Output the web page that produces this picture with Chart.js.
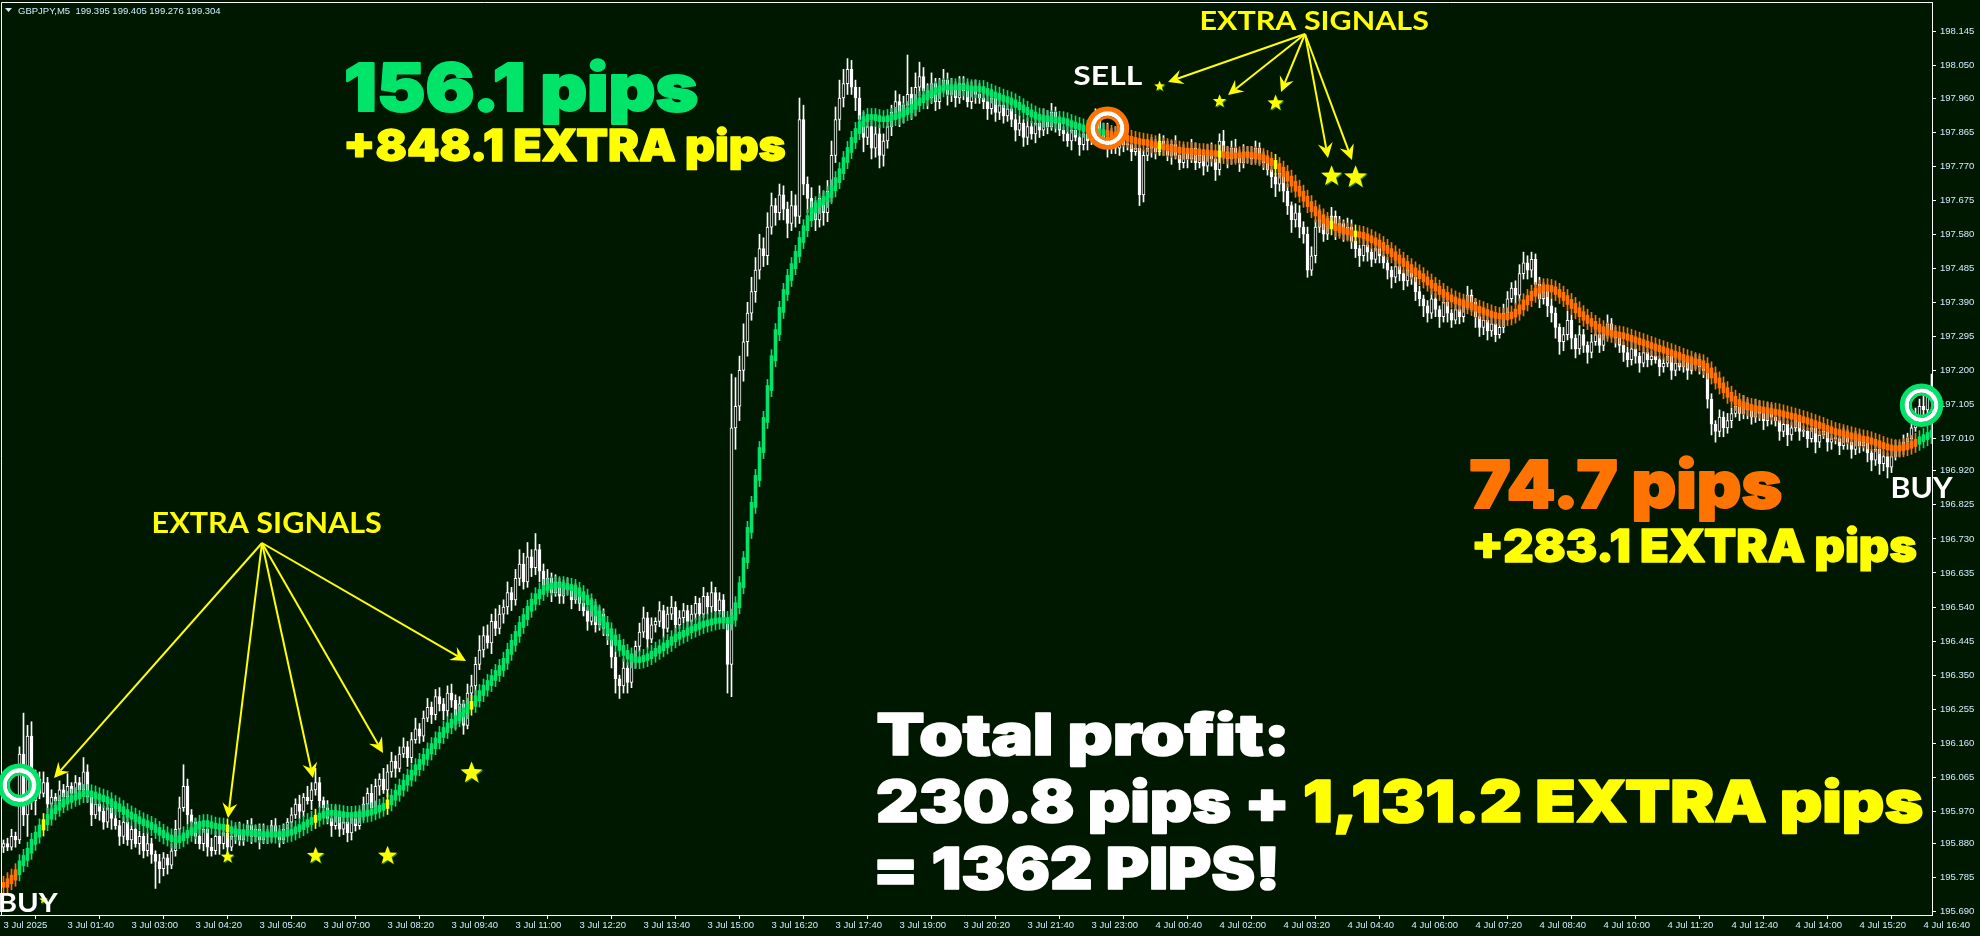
<!DOCTYPE html>
<html>
<head>
<meta charset="utf-8">
<script src="https://cdn.jsdelivr.net/npm/chart.js@4.4.1/dist/chart.umd.min.js"></script>
<style>
  html, body { margin: 0; padding: 0; background: #001800; }
  #wrap { width: 1980px; height: 936px; }
</style>
</head>
<body>
<div id="wrap"><canvas id="chart" width="1980" height="936"></canvas></div>
<script>
// GBPJPY M5, 3-4 Jul 2025. Prices are kept in points: price = BASE + value / 1000
const BASE = 195;
const FIRST_OPEN = 870;

const closes = [
  880,870,900,890,1130,960,1180,1000,1060,1020,
  1050,990,1010,1000,1030,1010,1040,1020,1050,1030,
  1080,1010,960,990,970,940,980,950,930,900,
  940,890,920,880,900,860,880,850,830,810,
  840,820,860,920,980,1040,960,940,900,880,
  920,870,860,900,880,910,870,900,920,890,
  910,930,900,920,890,910,900,930,910,890,
  920,940,960,990,970,1010,1000,1030,1050,1000,
  980,950,930,960,920,940,910,950,930,960,
  990,1020,980,1040,1060,1030,1080,1110,1090,1130,
  1150,1120,1170,1200,1180,1230,1260,1240,1290,1270,
  1250,1300,1280,1230,1270,1210,1300,1320,1380,1420,
  1460,1440,1500,1480,1520,1540,1580,1560,1620,1660,
  1610,1680,1650,1700,1640,1600,1620,1580,1610,1570,
  1600,1590,1560,1580,1550,1530,1500,1540,1490,1520,
  1480,1460,1400,1340,1320,1370,1330,1390,1430,1470,
  1510,1450,1490,1500,1530,1480,1520,1540,1490,1510,
  1530,1500,1520,1550,1520,1570,1540,1580,1530,1560,
  1500,1380,2040,2100,2200,2280,2360,2420,2480,2540,
  2520,2600,2660,2640,2690,2650,2610,2660,2630,2900,
  2720,2680,2650,2620,2680,2640,2700,2800,2900,2960,
  3000,3040,2990,2960,2900,2850,2880,2820,2860,2800,
  2840,2880,2920,2950,2910,2940,2970,2930,2990,3020,
  2980,2960,3000,2950,2990,3010,2970,2990,2960,3000,
  2980,2950,2990,2970,2960,2950,2930,2960,2920,2940,
  2910,2930,2900,2870,2890,2850,2880,2860,2890,2870,
  2910,2880,2920,2890,2870,2860,2840,2870,2850,2830,
  2860,2840,2880,2900,2870,2850,2830,2860,2820,2840,
  2830,2830,2810,2820,2690,2800,2820,2830,2810,2840,
  2820,2800,2830,2800,2780,2810,2790,2820,2780,2800,
  2770,2810,2790,2760,2840,2810,2790,2820,2800,2780,
  2810,2800,2790,2820,2800,2780,2760,2740,2720,2750,
  2700,2660,2620,2640,2600,2580,2480,2520,2600,2620,
  2580,2610,2630,2590,2610,2580,2600,2560,2540,2520,
  2550,2530,2510,2540,2520,2500,2480,2460,2490,2470,
  2450,2480,2460,2420,2400,2380,2360,2400,2370,2350,
  2390,2360,2340,2370,2350,2380,2410,2390,2350,2320,
  2340,2310,2330,2300,2320,2360,2400,2430,2410,2470,
  2500,2480,2510,2440,2400,2420,2380,2360,2320,2280,
  2300,2340,2290,2260,2300,2270,2250,2280,2300,2270,
  2300,2330,2310,2290,2270,2250,2230,2260,2240,2220,
  2250,2230,2240,2230,2210,2220,2240,2200,2220,2210,
  2230,2200,2220,2230,2210,2200,2120,2050,2030,2070,
  2040,2060,2080,2100,2080,2110,2090,2070,2100,2080,
  2060,2090,2070,2060,2030,2050,2020,2040,2060,2030,
  2030,2010,2040,2000,2020,2030,2000,2010,2010,1990,
  2020,2000,1980,2010,1990,2000,1970,1950,1980,1940,
  1960,1930,1960,1990,1980,2000,2010,2040,2070,2100,
  2090,2130,2150
];

// wick length above / below each body, points
const wickUp = [
  10,15,20,12,20,114,30,40,25,20, 30,15,20,10,25,15,35,10,20,15,
  40,20,15,25,10,15,20,10,30,15, 15,20,10,25,15,10,30,15,10,20,
  15,10,20,25,30,60,20,15,10,20, 15,10,25,15,20,10,15,25,10,20,
  10,15,20,10,15,25,10,15,20,10, 15,10,20,15,25,10,30,20,40,15,
  10,20,15,25,10,20,15,10,20,15, 20,15,25,20,15,30,20,25,15,20,
  25,15,20,30,15,20,25,15,20,25, 15,20,25,15,20,10,25,30,20,40,
  25,30,20,35,25,20,30,15,25,40, 30,40,20,45,15,20,25,15,20,10,
  15,20,10,25,15,20,10,25,15,20, 15,10,20,15,10,25,15,20,15,25,
  30,15,20,10,25,15,20,30,15,20, 20,15,25,20,15,25,10,30,15,20,
  15,10,150,80,40,50,30,40,35,40, 30,40,35,20,30,25,20,40,30,60,
  40,20,30,25,35,20,30,40,35,50, 40,30,25,20,30,20,25,30,20,25,
  20,25,20,30,20,25,110,20,40,40, 25,20,30,15,25,30,20,25,15,20,
  20,25,15,20,30,15,20,25,15,20, 15,20,25,15,20,10,25,15,20,15,
  20,15,25,15,20,10,25,15,20,10, 20,15,25,30,15,20,40,15,20,25,
  15,20,10,25,20,15,25,20,15,20, 15,20,10,25,15,20,10,25,15,20,
  15,20,25,15,20,30,15,20,25,15, 20,15,25,20,15,10,20,15,10,25,
  15,20,10,25,20,15,20,25,20,30, 15,20,25,15,20,10,25,20,15,10,
  20,15,10,25,15,20,15,10,25,15, 10,20,15,20,15,10,15,25,15,10,
  20,15,10,25,15,20,25,15,10,15, 15,10,20,15,20,25,20,15,20,25,
  30,20,20,15,20,25,15,20,15,10, 20,25,15,10,25,15,10,20,25,15,
  20,25,15,10,15,10,15,20,15,10, 15,10,15,20,10,15,20,10,15,20,
  15,10,20,15,10,15,20,15,10,20, 15,20,15,25,15,20,10,15,20,15,
  10,20,15,10,15,20,10,15,20,10, 15,10,20,15,10,20,15,10,15,10,
  20,15,10,20,15,10,15,10,20,15, 15,10,20,15,10,20,15,20,25,20,
  30,25,40
];
const wickDn = [
  15,10,8,20,10,30,60,25,40,15, 10,25,15,20,10,30,15,20,10,25,
  10,15,30,10,25,20,15,30,10,25, 20,15,25,10,30,20,15,25,75,40,
  20,25,10,15,20,10,25,30,20,15, 20,25,15,10,30,15,25,10,20,15,
  15,10,20,15,25,10,20,15,10,20, 10,20,15,10,20,15,10,25,15,20,
  25,15,30,10,20,15,25,20,15,10, 15,20,10,15,25,10,20,15,25,10,
  10,25,15,10,20,15,10,25,15,20, 25,15,20,30,15,25,10,20,30,15,
  20,15,30,20,15,25,20,30,15,20, 20,15,25,20,30,15,20,25,10,20,
  20,15,25,10,20,15,25,10,20,15, 20,25,30,40,35,20,30,15,20,15,
  15,25,10,20,15,25,10,15,25,10, 15,20,10,15,25,10,20,15,25,10,
  20,80,90,60,40,30,40,20,30,25, 30,25,20,35,20,30,40,20,30,20,
  30,40,25,30,20,35,25,30,20,30, 25,30,20,35,25,40,20,30,25,35,
  30,20,25,20,30,20,25,30,20,25, 20,30,15,25,20,15,30,20,25,15,
  25,15,20,25,15,20,30,15,25,20, 20,15,20,30,15,25,20,15,25,20,
  15,20,10,25,15,20,15,25,10,30, 15,25,10,15,20,15,35,25,15,20,
  20,15,25,10,30,20,15,25,20,10, 20,15,25,10,20,15,25,10,20,15,
  25,15,20,30,15,20,25,15,20,25, 15,20,15,10,25,20,15,30,35,20,
  30,25,35,20,30,25,20,15,20,15, 20,15,10,25,15,20,15,20,25,30,
  15,25,20,10,20,15,25,30,15,20, 25,15,20,25,20,30,25,15,20,30,
  15,25,20,10,20,15,10,25,30,25, 20,25,15,20,10,15,20,10,25,15,
  15,25,20,30,25,15,30,25,30,35, 25,15,30,25,15,20,30,15,10,20,
  15,10,20,25,20,25,20,15,20,25, 10,20,15,10,25,15,10,25,15,10,
  15,25,10,15,20,20,25,30,30,15, 25,15,20,10,20,15,25,20,15,20,
  25,15,20,15,25,15,30,15,10,25, 15,25,10,30,15,10,25,20,15,25,
  10,20,25,15,20,15,25,30,15,30, 20,30,15,10,20,15,10,15,10,15,
  15,20,15
];

// smoothed trend indicator drawn as coloured bars
const trendLine = [
  765,775,785,800,825,840,860,885,905,925,
  940,955,970,980,990,997,1002,1008,1012,1018,
  1021,1020,1017,1012,1008,1004,998,990,984,976,
  968,961,955,948,942,937,932,926,918,910,
  903,897,892,890,895,903,910,918,928,935,
  937,934,930,928,927,925,920,915,913,911,
  910,910,909,908,907,906,905,905,906,907,
  908,910,914,920,926,933,940,946,952,958,
  963,966,966,964,962,960,960,960,961,962,
  964,966,970,975,980,985,995,1008,1022,1036,
  1050,1064,1078,1093,1108,1122,1137,1152,1168,1183,
  1197,1210,1220,1230,1240,1252,1262,1270,1285,1300,
  1315,1328,1342,1356,1370,1390,1415,1440,1465,1490,
  1512,1535,1555,1570,1582,1593,1597,1600,1601,1601,
  1599,1596,1593,1585,1576,1566,1553,1538,1522,1506,
  1490,1472,1455,1440,1426,1412,1402,1394,1392,1394,
  1398,1403,1410,1418,1425,1433,1440,1450,1457,1463,
  1468,1475,1480,1485,1490,1494,1497,1500,1502,1503,
  1504,1500,1510,1545,1601,1671,1755,1825,1900,1978,
  2062,2151,2234,2307,2369,2419,2458,2491,2525,2564,
  2597,2625,2647,2661,2669,2678,2689,2708,2731,2756,
  2787,2815,2843,2868,2887,2901,2907,2907,2904,2901,
  2901,2904,2907,2910,2915,2921,2926,2935,2946,2954,
  2962,2971,2976,2982,2987,2990,2990,2990,2990,2990,
  2990,2987,2987,2985,2985,2980,2975,2970,2966,2961,
  2957,2953,2948,2941,2934,2927,2920,2914,2908,2905,
  2902,2901,2900,2899,2898,2895,2890,2886,2882,2878,
  2874,2871,2869,2867,2865,2863,2860,2857,2855,2852,
  2849,2846,2843,2840,2838,2836,2834,2831,2828,2825,
  2823,2820,2818,2816,2814,2813,2812,2810,2809,2809,
  2808,2807,2806,2805,2803,2801,2799,2799,2800,2800,
  2801,2801,2800,2798,2795,2790,2785,2779,2770,2760,
  2748,2735,2721,2707,2693,2679,2664,2650,2638,2627,
  2617,2609,2602,2597,2592,2588,2585,2582,2580,2578,
  2574,2569,2563,2557,2550,2542,2533,2524,2515,2506,
  2497,2488,2479,2471,2463,2454,2445,2436,2428,2419,
  2411,2404,2398,2393,2389,2386,2382,2377,2372,2368,
  2363,2359,2355,2352,2350,2349,2351,2356,2364,2376,
  2390,2402,2414,2422,2428,2432,2430,2426,2419,2411,
  2402,2391,2380,2368,2357,2347,2338,2330,2322,2315,
  2309,2305,2302,2300,2298,2295,2291,2287,2283,2279,
  2275,2271,2267,2263,2259,2255,2251,2247,2243,2238,
  2234,2230,2226,2223,2220,2212,2200,2186,2172,2158,
  2145,2132,2121,2112,2106,2101,2098,2095,2093,2091,
  2089,2087,2085,2083,2080,2077,2074,2071,2068,2064,
  2061,2057,2053,2049,2045,2040,2036,2031,2028,2025,
  2022,2019,2016,2013,2010,2008,2005,2001,1997,1992,
  1988,1985,1983,1982,1983,1986,1990,1995,2001,2008,
  2014,2020,2026
];

const trendChanges = [[0, 'sell'], [4, 'buy'], [276, 'sell'], [479, 'buy']];
const entryBars = [4, 276, 479.5];
const entryPrices = [1043, 2876, 2103];
const entrySides = ['buy', 'sell', 'buy'];

// extra signals: yellow bar + star
const signalBars = [10, 56, 78, 96, 117, 289, 304, 318, 332, 338];
const signalPrices = [723, 843, 846, 846, 1077, 2993, 2951, 2946, 2742, 2739];

const timeLabels = [
  '3 Jul 2025', '3 Jul 01:40', '3 Jul 03:00', '3 Jul 04:20', '3 Jul 05:40', '3 Jul 07:00',
  '3 Jul 08:20', '3 Jul 09:40', '3 Jul 11:00', '3 Jul 12:20', '3 Jul 13:40', '3 Jul 15:00',
  '3 Jul 16:20', '3 Jul 17:40', '3 Jul 19:00', '3 Jul 20:20', '3 Jul 21:40', '3 Jul 23:00',
  '4 Jul 00:40', '4 Jul 02:00', '4 Jul 03:20', '4 Jul 04:40', '4 Jul 06:00', '4 Jul 07:20',
  '4 Jul 08:40', '4 Jul 10:00', '4 Jul 11:20', '4 Jul 12:40', '4 Jul 14:00', '4 Jul 15:20',
  '4 Jul 16:40'
];
const BARS_PER_LABEL = 16;

const priceTicks = [
  198.145, 198.050, 197.960, 197.865, 197.770, 197.675, 197.580, 197.485, 197.390,
  197.295, 197.200, 197.105, 197.010, 196.920, 196.825, 196.730, 196.635, 196.540,
  196.445, 196.350, 196.255, 196.160, 196.065, 195.970, 195.880, 195.785, 195.690
];

const C = {
  bg: '#001800',
  candle: '#ffffff',
  buy: '#00e46a',
  sell: '#ff7400',
  signal: '#ffff00',
  axis: '#ffffff',
  label: '#cdeeff',
  starShadow: '#2f8a00'
};

const px = v => BASE + v / 1000;
const opens = closes.map((c, i) => (i ? closes[i - 1] : FIRST_OPEN));

const candleBodies = closes.map((c, i) => ({ x: i, y: [px(Math.min(opens[i], c)), px(Math.max(opens[i], c))] }));
const candleWicks = closes.map((c, i) => ({
  x: i, y: [px(Math.min(opens[i], c) - wickDn[i]), px(Math.max(opens[i], c) + wickUp[i])]
}));

function trendAt(i) {
  let side = 'sell';
  trendChanges.forEach(([bar, s]) => { if (i >= bar) side = s; });
  return side;
}
function lineColor(i) {
  if (signalBars.includes(i)) return C.signal;
  return trendAt(i) === 'buy' ? C.buy : C.sell;
}
const lineBodies = trendLine.map((v, i) => {
  const p = i ? trendLine[i - 1] : v;
  return { x: i, y: [px(Math.min(p, v) - 7), px(Math.max(p, v) + 7)] };
});
const lineWicks = trendLine.map((v, i) => {
  const p = i ? trendLine[i - 1] : v;
  return { x: i, y: [px(Math.min(p, v) - 24), px(Math.max(p, v) + 24)] };
});

// ---- overlay helpers ----
function drawStar(ctx, cx, cy, r, color) {
  ctx.beginPath();
  for (let k = 0; k < 10; k++) {
    const rr = k % 2 ? r * 0.42 : r;
    const a = -Math.PI / 2 + k * Math.PI / 5;
    ctx.lineTo(cx + rr * Math.cos(a), cy + rr * Math.sin(a));
  }
  ctx.closePath();
  ctx.fillStyle = color;
  ctx.fill();
}

function drawArrow(ctx, x0, y0, x1, y1) {
  const a = Math.atan2(y1 - y0, x1 - x0);
  const L = 15, W = 7.5;
  const cos = Math.cos(a), sin = Math.sin(a);
  const bx = x1 - L * cos, by = y1 - L * sin;
  const nx = x1 - L * 0.65 * cos, ny = y1 - L * 0.65 * sin;
  ctx.beginPath();
  ctx.moveTo(x0, y0);
  ctx.lineTo(nx, ny);
  ctx.stroke();
  ctx.beginPath();
  ctx.moveTo(x1, y1);
  ctx.lineTo(bx + W * sin, by - W * cos);
  ctx.lineTo(nx, ny);
  ctx.lineTo(bx - W * sin, by + W * cos);
  ctx.closePath();
  ctx.fill();
}

function drawRing(ctx, cx, cy, color) {
  [[19.2, 5, color], [14.6, 4.4, '#ffffff'], [11, 2.8, color]].forEach(([r, w, c]) => {
    ctx.beginPath();
    ctx.arc(cx, cy, r, 0, Math.PI * 2);
    ctx.lineWidth = w;
    ctx.strokeStyle = c;
    ctx.stroke();
  });
}

const HEAVY = '900 100px Inter, "DejaVu Sans", sans-serif';
const SEMI = '700 100px Lato, "Open Sans", sans-serif';

// draws text so that its ink box matches the given left edge, width and cap height
function fitText(ctx, note) {
  ctx.save();
  ctx.font = note.heavy ? HEAVY : SEMI;
  ctx.textBaseline = 'alphabetic';
  ctx.textAlign = 'left';
  ctx.lineJoin = 'round';
  const capH = ctx.measureText('H').actualBoundingBoxAscent;
  const full = note.parts.map(p => p[0]).join('');
  const m = ctx.measureText(full);
  const ink = m.actualBoundingBoxLeft + m.actualBoundingBoxRight;
  const sx = note.width / ink;
  const sy = note.cap / capH;
  ctx.translate(note.x + m.actualBoundingBoxLeft * sx, note.base);
  ctx.scale(sx, sy);
  let cx = 0;
  note.parts.forEach(([t, col]) => {
    ctx.fillStyle = col;
    ctx.fillText(t, cx, 0);
    if (note.heavy) {
      // a thin same-colour outline makes the strokes closer to the heavy original
      ctx.strokeStyle = col;
      ctx.lineWidth = 3;
      ctx.strokeText(t, cx, 0);
    }
    cx += ctx.measureText(t).width;
  });
  ctx.restore();
}

const notes = [
  { parts: [['156.1 pips', C.buy]], x: 347, base: 111, width: 350, cap: 48, heavy: true },
  { parts: [['+848.1 EXTRA pips', C.signal]], x: 347, base: 161, width: 438, cap: 32, heavy: true },
  { parts: [['74.7 pips', C.sell]], x: 1471, base: 508, width: 310, cap: 48, heavy: true },
  { parts: [['+283.1 EXTRA pips', C.signal]], x: 1475, base: 562, width: 441, cap: 33, heavy: true },
  { parts: [['Total profit:', '#ffffff']], x: 878, base: 755, width: 406, cap: 42, heavy: true },
  { parts: [['230.8 pips + ', '#ffffff'], ['1,131.2 EXTRA pips', C.signal]], x: 878, base: 822, width: 1044, cap: 42, heavy: true },
  { parts: [['= 1362 PIPS!', '#ffffff']], x: 878, base: 889, width: 397, cap: 42, heavy: true },
  { parts: [['EXTRA SIGNALS', C.signal]], x: 154, base: 533, width: 227, cap: 21 },
  { parts: [['EXTRA SIGNALS', C.signal]], x: 1202, base: 30, width: 226, cap: 20 },
  { parts: [['SELL', '#ffffff']], x: 1074, base: 85, width: 68, cap: 20 },
  { parts: [['BUY', '#ffffff']], x: 0, base: 912, width: 58, cap: 20 },
  { parts: [['BUY', '#ffffff']], x: 1893, base: 498, width: 60, cap: 21 }
];

const arrowGroups = [
  { from: [262, 543], to: [[54, 778], [228, 818], [313, 778], [383, 753], [466, 661]] },
  { from: [1305, 34], to: [[1168, 82], [1228, 95], [1281, 92], [1328, 158], [1352, 160]] }
];
const starSizes = [4.5, 7, 9, 10, 11.5, 5.5, 7, 8.5, 11, 12];

const background = {
  id: 'background',
  beforeDraw(chart) {
    const { ctx, width, height } = chart;
    ctx.save();
    ctx.fillStyle = C.bg;
    ctx.fillRect(0, 0, width, height);
    ctx.restore();
  }
};

const overlay = {
  id: 'overlay',
  afterDraw(chart) {
    const { ctx, chartArea: a, scales: { x, y } } = chart;
    const X = i => x.getPixelForValue(i);
    const Y = v => y.getPixelForValue(px(v));
    ctx.save();

    // chart frame (top / left)
    ctx.strokeStyle = C.axis;
    ctx.lineWidth = 1;
    ctx.beginPath();
    ctx.moveTo(1.5, a.bottom);
    ctx.lineTo(1.5, a.top + 0.5);
    ctx.lineTo(a.right + 0.5, a.top + 0.5);
    ctx.stroke();

    // header
    ctx.fillStyle = C.label;
    ctx.beginPath();
    ctx.moveTo(5, 8); ctx.lineTo(12, 8); ctx.lineTo(8.5, 12); ctx.closePath(); ctx.fill();
    ctx.font = '9.5px "Liberation Sans", Arial, sans-serif';
    ctx.textBaseline = 'middle';
    ctx.fillText('GBPJPY,M5  199.395 199.405 199.276 199.304', 18, 11);

    // arrows
    ctx.strokeStyle = C.signal;
    ctx.fillStyle = C.signal;
    ctx.lineWidth = 2;
    arrowGroups.forEach(g => g.to.forEach(t => drawArrow(ctx, g.from[0], g.from[1], t[0], t[1])));

    // signal stars
    signalBars.forEach((b, k) => {
      const cx = X(b), cy = Y(signalPrices[k]), r = starSizes[k];
      drawStar(ctx, cx + 1, cy + 1, r, C.starShadow);
      drawStar(ctx, cx, cy, r, C.signal);
    });

    // entry rings
    entryBars.forEach((b, k) => {
      drawRing(ctx, X(b), Y(entryPrices[k]), entrySides[k] === 'buy' ? C.buy : C.sell);
    });

    // text notes
    notes.forEach(n => fitText(ctx, n));
    ctx.restore();
  }
};

const axisFont = { family: '"Liberation Sans", Arial, sans-serif', size: 9.5 };

new Chart(document.getElementById('chart'), {
  type: 'bar',
  data: {
    datasets: [
      { data: lineBodies, barThickness: 3, backgroundColor: c => lineColor(c.dataIndex), order: 1 },
      { data: lineWicks, barThickness: 1, backgroundColor: c => lineColor(c.dataIndex), order: 2 },
      {
        data: candleBodies, barThickness: 3, minBarLength: 1,
        backgroundColor: c => (closes[c.dataIndex] >= opens[c.dataIndex] ? C.bg : C.candle),
        borderColor: C.candle, borderWidth: 1, borderSkipped: false, order: 3
      },
      { data: candleWicks, barThickness: 1, backgroundColor: C.candle, order: 4 }
    ]
  },
  options: {
    responsive: false,
    animation: false,
    events: [],
    datasets: { bar: { grouped: false } },
    layout: { padding: { top: 2, left: 0, right: 0, bottom: 0 } },
    plugins: { legend: { display: false }, tooltip: { enabled: false } },
    scales: {
      x: {
        type: 'linear',
        min: -0.875,
        max: closes.length - 0.875,
        offset: false,
        border: { color: C.axis, width: 1 },
        grid: { drawOnChartArea: false, color: C.axis, tickLength: 4 },
        ticks: {
          autoSkip: false, maxRotation: 0, minRotation: 0, align: 'start',
          padding: 1, color: C.label, font: axisFont,
          callback: (v, k) => timeLabels[k]
        },
        afterBuildTicks: s => { s.ticks = timeLabels.map((_, k) => ({ value: k * BARS_PER_LABEL })); },
        afterFit: s => { s.height = 21; s.paddingLeft = 0; s.paddingRight = 0; }
      },
      y: {
        position: 'right',
        min: 195.6808,
        max: 198.2279,
        border: { color: C.axis, width: 1 },
        grid: { drawOnChartArea: false, color: C.axis, tickLength: 4 },
        ticks: {
          autoSkip: false, padding: 4, color: C.label, font: axisFont,
          callback: v => v.toFixed(3)
        },
        afterBuildTicks: s => { s.ticks = priceTicks.map(v => ({ value: v })); },
        afterFit: s => { s.width = 48; s.paddingTop = 0; s.paddingBottom = 0; }
      }
    }
  },
  plugins: [background, overlay]
});
</script>
</body>
</html>
